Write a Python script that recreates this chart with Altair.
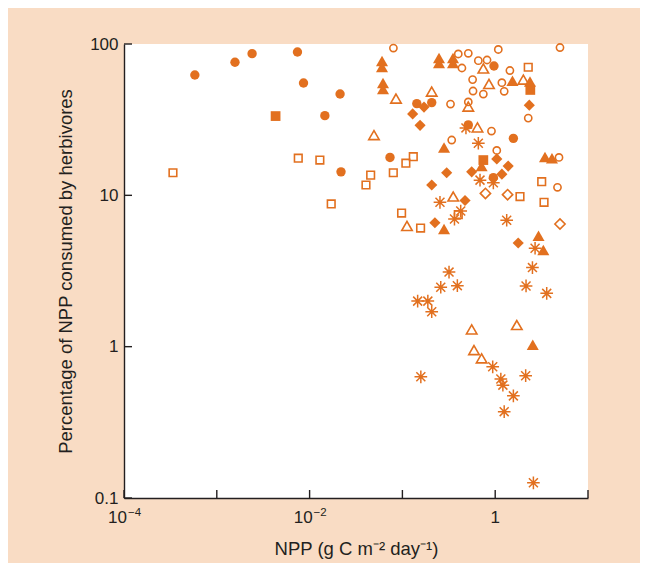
import altair as alt
import pandas as pd

ORANGE = "#e2701f"
BEIGE = "#f9dcc4"
INK = "#231f20"
FONT = "Liberation Sans"

# ---- data (NPP in g C m-2 day-1, % of NPP consumed) ----
fc_npp = [5.8e-4, 1.57e-3, 2.4e-3, 7.4e-3, 8.6e-3, 0.0213, 0.0146, 0.0735, 0.0218,
          0.143, 0.207, 0.97, 1.57, 0.513, 0.955]
fc_pct = [62.4, 75.7, 86.3, 88.5, 55.2, 46.7, 33.6, 17.8, 14.3,
          40.4, 41.0, 71.6, 23.8, 29.2, 13.1]

oc_npp = [0.080, 0.40, 0.513, 0.658, 0.817, 1.08, 4.99, 0.438, 0.571, 0.577, 0.745,
          1.18, 1.25, 1.44, 0.33, 0.513, 0.34, 0.912, 1.04, 2.27, 4.87, 4.69]
oc_pct = [94, 85.9, 86.8, 77.6, 78.4, 92, 94.8, 69.4, 58.2, 48.9, 46.7,
          55.5, 48.7, 66.8, 40.1, 41.4, 23.2, 26.6, 19.8, 32.4, 17.8, 11.3]

fs_npp = [4.3e-3, 0.745, 2.39]
fs_pct = [33.4, 17.1, 49.7]

os_npp = [3.37e-4, 7.55e-3, 0.0129, 0.0171, 0.0405, 0.0455, 0.0798, 0.109, 0.131,
          0.098, 0.157, 0.40, 1.85, 3.17, 3.36, 2.27]
os_pct = [14.1, 17.6, 17.1, 8.77, 11.7, 13.6, 14.1, 16.3, 18.0,
          7.64, 6.08, 7.46, 9.82, 12.3, 8.99, 70.2]

ft_npp = [0.0603, 0.0603, 0.0618, 0.0618, 0.248, 0.248, 0.351, 0.351, 1.535, 2.37,
          0.281, 0.714, 3.44, 4.09, 0.281, 2.93, 3.30, 2.54]
ft_pct = [77.2, 70.5, 55.2, 50.4, 80.8, 74.9, 80.8, 74.9, 57.2, 56.5,
          20.7, 15.6, 17.9, 17.6, 5.99, 5.41, 4.35, 1.03]

ot_npp = [0.0853, 0.207, 0.513, 0.745, 0.857, 2.01, 0.0494, 0.644, 0.353, 0.112,
          0.558, 1.71, 0.591, 0.714]
ot_pct = [43.6, 48.5, 38.6, 68.9, 54.4, 58.2, 25.0, 28.1, 9.82, 6.27,
          1.30, 1.39, 0.95, 0.837]

fd_npp = [0.171, 0.129, 0.155, 0.207, 0.30, 0.558, 0.473, 0.224, 1.04, 1.38, 1.18, 2.33, 1.77]
fd_pct = [38.3, 34.5, 29.0, 11.7, 14.1, 14.3, 9.24, 6.59, 17.4, 15.6, 13.8, 39.4, 4.84]

od_npp = [0.785, 1.36, 4.99]
od_pct = [10.3, 10.1, 6.46]

as_npp = [0.484, 0.658, 0.254, 0.425, 0.364, 0.686, 0.955, 1.33, 2.69, 2.52, 0.318,
          0.259, 0.391, 2.15, 3.59, 0.146, 0.188, 0.207, 0.94, 0.158, 2.13, 1.15,
          1.21, 1.57, 1.25, 2.58]
as_pct = [27.9, 22.1, 8.99, 7.87, 6.97, 12.6, 12.1, 6.84, 4.47, 3.33, 3.11,
          2.47, 2.53, 2.52, 2.25, 2.0, 2.0, 1.70, 0.736, 0.632, 0.643, 0.611,
          0.557, 0.473, 0.372, 0.126]

x_ticks = [1e-4, 1e-3, 1e-2, 1e-1, 1, 10]
x_label_vals = [1e-4, 1e-2, 1]
x_label_base = ["10", "10", "1"]
x_label_exp = ["\u22124", "\u22122", ""]
y_ticks = [0.1, 1, 10, 100]

X_TITLE = "NPP (g C m\u207b\u00b2 day\u207b\u00b9)"
Y_TITLE = "Percentage of NPP consumed by herbivores"

W, H = 464, 454

xscale = alt.Scale(type="log", domain=[1e-4, 10], nice=False)
yscale = alt.Scale(type="log", domain=[0.1, 100], nice=False)

common_axis = dict(grid=False, ticks=False, tickSize=0, domainColor=INK, domainWidth=1.4,
                   labelFont=FONT, labelFontSize=17, labelColor=INK, labelOverlap=False,
                   titleFont=FONT, titleFontSize=18.5, titleFontWeight="normal", titleColor=INK)

xaxis = alt.Axis(values=x_label_vals, labels=False, titlePadding=41, **common_axis)
yaxis = alt.Axis(values=y_ticks, format="~g", labelPadding=6, titlePadding=14, **common_axis)


def X(field):
    return alt.X(f"{field}:Q", scale=xscale, axis=xaxis, title=X_TITLE)


def Y(field):
    return alt.Y(f"{field}:Q", scale=yscale, axis=yaxis, title=Y_TITLE)


def series(npp, pct, shape, filled, size, sw=1.6):
    df = pd.DataFrame({"npp": npp, "pct": pct})
    kw = dict(shape=shape, filled=filled, size=size, opacity=1)
    if filled:
        kw.update(fill=ORANGE, strokeWidth=0)
    else:
        kw.update(color=ORANGE, strokeWidth=sw)
    return alt.Chart(df).mark_point(**kw).encode(x=X("npp"), y=Y("pct"))


ASTERISK = "M0,-1L0,1M-1,0L1,0M-0.71,-0.71L0.71,0.71M-0.71,0.71L0.71,-0.71"

xt = alt.Chart(pd.DataFrame({"t": x_ticks})).mark_rule(color=INK, strokeWidth=1.4).encode(
    x=X("t"), y=alt.value(H), y2=alt.value(H - 8))
yt = alt.Chart(pd.DataFrame({"t": y_ticks})).mark_rule(color=INK, strokeWidth=1.4).encode(
    y=Y("t"), x=alt.value(0), x2=alt.value(8))

lab_df = pd.DataFrame({"v": x_label_vals, "base": x_label_base, "exp": x_label_exp,
                       "has_exp": [e != "" for e in x_label_exp]})
lab_base = alt.Chart(lab_df).mark_text(
    font=FONT, fontSize=17, color=INK, baseline="alphabetic", align="right", dx=3
).encode(x=X("v"), y=alt.value(H + 25), text="base:N").transform_filter("datum.has_exp")
lab_one = alt.Chart(lab_df).mark_text(
    font=FONT, fontSize=17, color=INK, baseline="alphabetic", align="center"
).encode(x=X("v"), y=alt.value(H + 25), text="base:N").transform_filter("!datum.has_exp")
lab_exp = alt.Chart(lab_df).mark_text(
    font=FONT, fontSize=11.5, color=INK, baseline="alphabetic", align="left", dx=4, dy=-7
).encode(x=X("v"), y=alt.value(H + 25), text="exp:N").transform_filter("datum.has_exp")

layers = [
    xt, yt, lab_base, lab_one, lab_exp,
    series(os_npp, os_pct, "square", False, 58),
    series(oc_npp, oc_pct, "circle", False, 52),
    series(ot_npp, ot_pct, "triangle-up", False, 110),
    series(od_npp, od_pct, "diamond", False, 105),
    series(as_npp, as_pct, ASTERISK, False, 160, 1.5),
    series(fs_npp, fs_pct, "square", True, 95),
    series(fc_npp, fc_pct, "circle", True, 88),
    series(ft_npp, ft_pct, "triangle-up", True, 145),
    series(fd_npp, fd_pct, "diamond", True, 125),
]

chart = alt.layer(*layers).properties(
    width=W, height=H,
    background=BEIGE,
    autosize=alt.AutoSizeParams(type="none"),
    padding={"left": 116, "top": 36, "right": 52, "bottom": 65},
).configure_view(fill="white", strokeWidth=0, clip=False)

chart.save("out.html", embed_options={"renderer": "svg", "actions": False})
